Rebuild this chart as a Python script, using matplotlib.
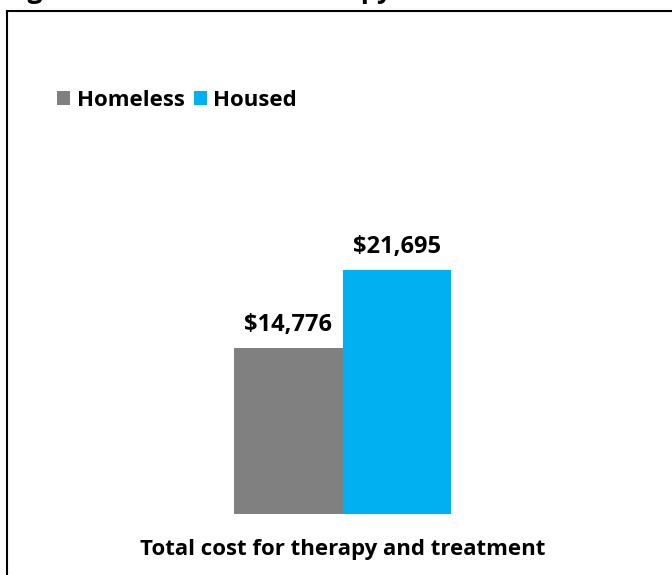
import matplotlib
matplotlib.use("Agg")
import matplotlib.pyplot as plt
from matplotlib.patches import Rectangle, Patch

series = ["Homeless", "Housed"]
values = [14776, 21695]
colors = ["#808080", "#00B0F0"]
category = "Total cost for therapy and treatment"
value_labels = ["$14,776", "$21,695"]
title = "Figure 3: Total cost of therapy and treatment"

plt.rcParams['font.family'] = ['Open Sans', 'DejaVu Sans']
plt.rcParams['font.weight'] = 'bold'

FS = 16

W, H = 672, 575
fig = plt.figure(figsize=(W / 100, H / 100), dpi=100)
fig.patch.set_facecolor("white")

# axes: bottom at y=514px, top at y=64px; x from 126 to 559 px
ax = fig.add_axes([126 / W, 1 - 514 / H, (559 - 126) / W, (514 - 64) / H])
ax.set_xlim(-1, 1)
ax.set_ylim(0, 40000)

xs = [-0.25, 0.25]
for x, v, c, s, lab in zip(xs, values, colors, series, value_labels):
    b = ax.bar(x, v, width=0.5, color=c, label=s)
    ax.bar_label(b, labels=[lab], padding=8,
                 fontsize=17, fontweight='bold', color='black')

for sp in ax.spines.values():
    sp.set_visible(False)
ax.set_yticks([])
ax.set_xticks([0], [category])
ax.tick_params(axis='x', length=0, pad=18, labelsize=FS)
for t in ax.get_xticklabels():
    t.set_fontweight('bold')
ax.patch.set_alpha(0)

# outer border
fig.patches.append(Rectangle((7 / W, -0.2), 1.2, 1.2 - 11 / H, transform=fig.transFigure,
                             fill=False, edgecolor='black', linewidth=1.5))

# title (cut off at top, as in the reference)
fig.text(5 / W, 1 + 2 / H, title, ha='left', va='baseline', fontsize=19,
         fontweight='bold', color='black')

handles = [Patch(facecolor=c, edgecolor='none') for c in colors]
fig.legend(handles, series, loc='center left', bbox_to_anchor=(57 / W, 1 - 100 / H),
           ncol=2, frameon=False, handlelength=0.6, handleheight=0.6,
           handletextpad=0.28, columnspacing=0.42, borderaxespad=0, borderpad=0,
           prop={'weight': 'bold', 'size': FS})

fig.savefig("out.png", dpi=100, facecolor="white")
